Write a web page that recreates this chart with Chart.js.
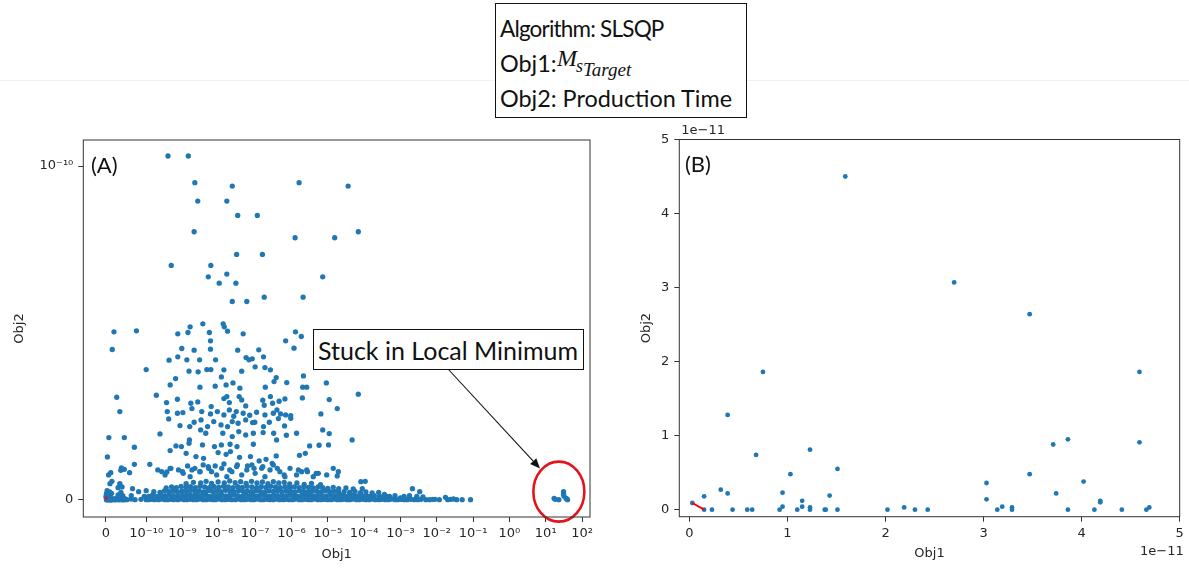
<!DOCTYPE html>
<html>
<head>
<meta charset="utf-8">
<script src="https://cdn.jsdelivr.net/npm/chart.js@4.4.0/dist/chart.umd.min.js"></script>
<style>
  body { margin: 0; background: #fff; }
  #page { position: relative; width: 1189px; height: 569px; overflow: hidden; background: #fff; }
  canvas { position: absolute; top: 0; }
  #chartA { left: 0; }
  #chartB { left: 600px; }
  .rule { position: absolute; left: 0; top: 80px; width: 1189px; height: 1px; background: #f0f0f0; }
  .box { position: absolute; box-sizing: border-box; border: 1.5px solid #111; background: #fff; }
  .t { position: absolute; font-family: Lato, "Open Sans", sans-serif; color: #111; line-height: 1.2;
       white-space: nowrap; transform: translateY(-50%); }
  .m { position: absolute; font-family: "Liberation Serif", serif; font-style: italic; color: #111;
       line-height: 1; white-space: nowrap; }
</style>
</head>
<body>
<div id="page">
  <canvas id="chartA" width="600" height="569"></canvas>
  <canvas id="chartB" width="589" height="569"></canvas>

  <div class="rule"></div>
  <div class="box" style="left:495px;top:3px;width:252px;height:115px"></div>
  <div class="t" style="left:500px;top:28px;font-size:22.5px;letter-spacing:-0.8px">Algorithm: SLSQP</div>
  <div class="t" style="left:500px;top:63px;font-size:23.4px">Obj1:</div>
  <span class="m" style="left:557px;top:46px;font-size:24px">M</span>
  <span class="m" style="left:576px;top:57px;font-size:18px">s</span>
  <span class="m" style="left:583px;top:60px;font-size:19px">Target</span>
  <div class="t" style="left:500px;top:98px;font-size:23.4px">Obj2: Production Time</div>

  <div class="t" style="left:91px;top:165px;font-size:22px">(A)</div>
  <div class="t" style="left:685px;top:164px;font-size:22px">(B)</div>

  <div class="box" style="left:313px;top:329px;width:271px;height:41px"></div>
  <div class="t" style="left:318px;top:350px;font-size:25px">Stuck in Local Minimum</div>
</div>

<script>
// ---- data -------------------------------------------------------------
// points with Obj1 < 5e-11 (they appear in both panels); both values in units of 1e-11
const lowObj1 = [1.59, 2.70, 3.47, 0.75, 4.59, 0.39, 0.68, 1.23, 3.71, 3.86,
                 4.59, 1.03, 1.51, 3.47, 3.03, 4.02, 0.32, 0.39, 0.15, 0.95,
                 1.43, 1.15, 3.74, 3.03, 4.19, 4.19, 0.03, 0.95, 1.15, 1.23,
                 2.19, 3.19, 3.29, 4.69,
                 0.15, 0.23, 0.44, 0.59, 0.64, 0.92, 1.10, 1.23, 1.38, 1.39,
                 1.51, 2.02, 2.30, 2.43, 3.14, 3.29, 3.86, 4.13, 4.41, 4.66,
                 2.02];
const lowObj2 = [4.50, 3.07, 2.64, 1.86, 1.86, 1.28, 0.74, 0.81, 0.88, 0.95,
                 0.91, 0.48, 0.55, 0.48, 0.36, 0.38, 0.27, 0.22, 0.18, 0.23,
                 0.19, 0.12, 0.22, 0.14, 0.12, 0.10, 0.09, 0.04, 0.04, 0.03,
                 0.03, 0.04, 0.03, 0.03,
                 0, 0, 0, 0, 0, 0, 0, 0, 0, 0,
                 0, 0, 0, 0, 0, 0, 0, 0, 0, 0,
                 5.03];

// red front (units of 1e-11)
const redObj1 = [0.03, 0.15];
const redObj2 = [0.09, 0];

// the other points of panel A: [log10(Obj1), Obj2 / 1e-11]
const upperA = [
  [-9.40,10.30],[-8.84,10.30],[-8.66,9.50],[-7.63,9.40],[-5.79,9.50],[-4.44,9.40],
  [-8.58,8.95],[-7.78,8.95],[-7.48,8.52],[-6.94,8.52],[-8.68,8.03],[-5.90,7.85],
  [-4.81,7.85],[-4.16,8.03],[-7.51,7.35],[-6.80,7.35],[-9.31,7.02],[-8.22,7.02],
  [-8.29,6.68],[-7.78,6.76],[-5.14,6.68],[-7.99,6.49],[-7.53,6.49],[-7.63,5.94],
  [-7.23,5.94],[-6.75,6.07],[-5.68,6.07]
];
const middleA = [
  [-10.12,5.06],[-9.13,4.97],[-8.85,5.01],[-8.79,5.18],[-8.44,5.27],[-7.88,5.27],[-7.85,5.18],
  [-7.76,5.05],[-8.26,5.01],[-8.23,4.76],[-7.33,4.97],[-5.89,5.03],[-5.73,4.89],[-6.16,4.76],
  [-9.02,4.53],[-8.68,4.48],[-8.23,4.51],[-7.48,4.48],[-6.90,4.49],[-5.93,4.54],
  [-10.00,3.90],[-9.37,4.18],[-9.13,4.28],[-8.88,4.19],[-8.53,4.19],[-8.09,4.19],[-7.25,4.26],
  [-7.17,4.19],[-7.08,4.22],[-6.77,4.28],[-7.00,3.98],
  [-8.82,3.85],[-8.57,3.83],[-8.33,3.90],[-8.22,3.90],[-7.93,3.68],[-7.86,3.89],[-7.37,3.85],
  [-6.73,3.96],[-6.58,3.89],[-6.42,3.66],[-5.67,3.71],
  [-9.19,3.63],[-9.34,3.44],[-8.52,3.37],[-8.10,3.40],[-7.80,3.44],[-7.61,3.50],[-7.42,3.34],
  [-6.72,3.37],[-6.48,3.54],[-6.13,3.51],[-5.69,3.37],[-5.58,3.37],[-5.04,3.50],
  [-9.72,3.13],[-9.44,2.91],[-9.14,3.01],[-8.77,2.89],[-8.58,2.93],[-8.21,2.79],[-7.86,3.03],
  [-7.78,3.09],[-7.71,2.91],[-7.44,3.09],[-7.37,2.99],[-7.26,2.81],[-6.79,2.98],[-6.75,2.83],
  [-6.58,3.09],[-6.52,2.89],[-6.34,2.95],[-6.18,3.02],[-5.70,3.05],[-4.96,3.00],[-4.74,2.73],
  [-4.16,3.16],
  [-9.42,2.64],[-9.14,2.59],[-8.99,2.61],[-8.74,2.73],[-8.47,2.64],[-8.23,2.57],[-8.04,2.64],
  [-7.86,2.54],[-7.71,2.69],[-7.59,2.50],[-7.52,2.64],[-7.33,2.59],[-7.15,2.53],[-6.96,2.62],
  [-6.73,2.54],[-6.50,2.59],[-6.40,2.69],[-6.30,2.57],[-6.16,2.54],[-6.02,2.52],[-6.36,2.43],
  [-5.19,2.57],
  [-9.38,2.42],[-9.07,2.22],[-8.80,2.19],[-8.68,2.32],[-8.49,2.39],[-8.31,2.19],[-8.14,2.34],
  [-7.94,2.24],[-7.76,2.19],[-7.63,2.34],[-7.47,2.29],[-7.26,2.39],[-7.07,2.31],[-7.01,2.32],
  [-6.77,2.19],[-6.61,2.32],[-6.19,2.21],[-6.02,2.44],
  [-9.62,1.97],[-8.81,1.79],[-8.50,2.09],[-8.36,1.99],[-7.89,1.99],[-7.63,1.89],[-7.45,2.04],
  [-7.26,1.94],[-7.05,1.99],[-6.78,2.01],[-6.49,1.99],[-6.14,1.93],[-5.86,1.99],[-5.14,2.09],
  [-4.96,1.98],[-4.33,1.79],
  [-10.15,1.57],[-9.18,1.61],[-9.03,1.59],[-8.82,1.69],[-8.45,1.64],[-8.12,1.59],[-7.93,1.64],
  [-7.69,1.66],[-7.50,1.59],[-7.05,1.66],[-6.41,1.79],[-5.50,1.61],[-5.24,1.63],[-4.98,1.64],
  [-9.34,1.47],[-8.90,1.39],[-8.63,1.29],[-8.42,1.24],[-8.02,1.41],[-7.80,1.36],[-7.68,1.44],
  [-7.43,1.27],[-7.13,1.29],[-6.89,1.16],[-6.70,1.21],[-6.42,1.31],[-5.78,1.33],[-5.62,1.39],
  [-10.15,1.06],[-9.90,1.06],[-10.23,0.81],[-9.68,0.89],[-9.43,0.83],[-9.32,0.94],[-9.00,0.84],
  [-8.86,1.01],[-8.74,0.89],[-8.52,0.84],[-8.28,0.94],[-8.10,1.01],[-7.86,1.07],[-7.70,0.89],
  [-7.49,1.04],[-7.21,1.01],[-7.03,0.94],[-6.79,0.99],[-6.53,1.09],[-6.39,0.94],[-6.20,0.74],
  [-5.81,0.89],[-5.56,0.84],[-5.32,0.79],[-4.74,0.71],[-4.09,0.54],[-3.97,0.55],
  [-10.18,0.33],[-10.09,0.24],[-10.00,0.27],[-9.79,0.24]
];
const lowerA = [
  [-9.57,0.84],[-9.48,0.74],[-9.34,0.94],[-9.11,0.89],[-8.98,0.79],[-8.79,0.69],[-8.66,0.94],
  [-8.52,0.84],[-8.43,1.04],[-8.29,0.99],[-8.20,0.84],[-8.06,0.74],[-7.92,0.94],[-7.78,0.69],
  [-7.64,0.84],[-7.51,0.99],[-7.37,0.74],[-7.23,0.89],[-7.09,1.04],[-7.00,0.79],[-6.82,0.94],
  [-6.73,0.69],[-6.59,0.89],[-6.50,1.04],[-6.32,0.84],[-6.18,0.69],[-6.04,0.94],[-5.86,0.74],
  [-5.72,0.84],[-5.58,0.89],[-5.40,0.69],[-5.26,0.79],[-5.03,0.74],[-4.85,0.94],[-4.71,0.84]
];
// the dense band just above Obj2 = 0
const bandA = [
  [-10.28,0],[-10.2,0.02],[-10.14,0],[-10.06,0.01],[-10.02,0.1],[-10.2,0.12],
  [-10.0,0],[-9.93,0],[-9.84,0.01],[-9.77,0],[-9.66,0],[-9.59,0.02],[-9.49,0],[-9.41,0],
  [-9.32,0.01],[-9.24,0],[-9.13,0],[-9.06,0.02],[-8.96,0],[-8.88,0],[-8.79,0.01],[-8.7,0],
  [-8.61,0],[-8.53,0.02],[-8.43,0],[-8.35,0],[-8.26,0.01],[-8.17,0],[-8.09,0],[-7.99,0.02],
  [-7.91,0],[-7.82,0],[-7.73,0.01],[-7.65,0],[-7.55,0],[-7.47,0.02],[-7.38,0],[-7.29,0],
  [-7.21,0.01],[-7.11,0],[-7.03,0],[-6.94,0.02],[-6.85,0],[-6.77,0],[-6.67,0.01],[-6.59,0],
  [-6.5,0],[-6.41,0.02],[-6.33,0],[-6.23,0],[-6.15,0.01],[-6.06,0],[-5.97,0],[-5.89,0.02],
  [-5.79,0],[-5.71,0],[-5.62,0.01],[-5.53,0],[-5.45,0],[-5.35,0.02],[-5.27,0],[-5.18,0],
  [-5.09,0.01],[-5.01,0],[-4.91,0],[-4.83,0.02],[-4.74,0],[-4.65,0],[-4.57,0.01],[-4.47,0],
  [-4.39,0],[-4.3,0.02],[-4.21,0],[-4.13,0],[-4.03,0.01],[-3.95,0],[-3.86,0],[-3.77,0.02],
  [-3.69,0],[-3.59,0],[-3.51,0.01],[-3.42,0],[-3.33,0],[-3.25,0.02],[-3.15,0],[-3.07,0],
  [-2.98,0.01],[-2.89,0],[-2.81,0],[-2.71,0.01],[-2.62,0],[-2.52,0],[-2.43,0.01],[-2.3,0],
  [-2.2,0],[-2.05,0.01],[-1.93,0],[-1.7,0],[-1.62,0.01],[-1.45,0],[-1.3,0],
  [-9.93,0.1],[-9.82,0.14],[-9.7,0.1],[-9.58,0.13],[-9.47,0.11],[-9.36,0.15],[-9.25,0.12],
  [-9.13,0.1],[-9.02,0.14],[-8.91,0.12],[-8.8,0.15],[-8.69,0.11],[-8.58,0.13],[-8.47,0.12],
  [-8.36,0.15],[-8.25,0.1],[-8.14,0.13],[-8.03,0.12],[-7.92,0.14],[-7.81,0.11],[-7.7,0.13],
  [-7.59,0.15],[-7.48,0.12],[-7.37,0.1],[-7.26,0.14],[-7.15,0.12],[-7.04,0.13],[-6.93,0.11],
  [-6.82,0.15],[-6.71,0.12],[-6.6,0.1],[-6.49,0.14],[-6.38,0.12],[-6.27,0.13],[-6.16,0.11],
  [-6.05,0.15],[-5.94,0.12],[-5.83,0.1],[-5.72,0.13],[-5.61,0.12],[-5.5,0.14],[-5.39,0.11],
  [-5.28,0.12],[-5.17,0.13],[-5.06,0.1],[-4.95,0.14],[-4.84,0.12],[-4.73,0.11],[-4.62,0.13],
  [-4.51,0.1],[-4.4,0.12],[-4.29,0.14],[-4.18,0.11],[-4.07,0.1],[-3.96,0.13],[-3.85,0.1],
  [-3.72,0.12],[-3.58,0.1],[-3.46,0.11],[-3.3,0.1],[-3.15,0.12],[-2.9,0.1],[-2.75,0.12],
  [-2.55,0.1],[-2.38,0.08],
  [-9.62,0.22],[-9.5,0.26],[-9.38,0.24],[-9.26,0.27],[-9.14,0.23],[-9.02,0.26],[-8.9,0.25],
  [-8.78,0.28],[-8.66,0.24],[-8.54,0.26],[-8.42,0.23],[-8.3,0.27],[-8.18,0.25],[-8.06,0.26],
  [-7.94,0.24],[-7.82,0.28],[-7.7,0.25],[-7.58,0.23],[-7.46,0.27],[-7.34,0.25],[-7.22,0.26],
  [-7.1,0.24],[-6.98,0.27],[-6.86,0.25],[-6.74,0.23],[-6.62,0.26],[-6.5,0.25],[-6.38,0.27],
  [-6.26,0.24],[-6.14,0.26],[-6.02,0.25],[-5.9,0.23],[-5.78,0.27],[-5.66,0.25],[-5.54,0.24],
  [-5.42,0.26],[-5.3,0.25],[-5.18,0.23],[-5.06,0.26],[-4.94,0.24],[-4.82,0.25],[-4.7,0.22],
  [-4.55,0.24],[-4.4,0.22],[-4.25,0.25],[-4.1,0.21],[-3.95,0.23],[-3.78,0.2],[-3.6,0.22],
  [-9.45,0.35],[-9.3,0.38],[-9.17,0.36],[-9.04,0.4],[-8.91,0.37],[-8.78,0.39],[-8.65,0.36],
  [-8.52,0.4],[-8.39,0.38],[-8.26,0.36],[-8.13,0.39],[-8.0,0.37],[-7.87,0.4],[-7.74,0.38],
  [-7.61,0.36],[-7.48,0.39],[-7.35,0.37],[-7.22,0.4],[-7.09,0.38],[-6.96,0.36],[-6.83,0.39],
  [-6.7,0.37],[-6.57,0.4],[-6.44,0.38],[-6.31,0.36],[-6.18,0.39],[-6.05,0.37],[-5.92,0.38],
  [-5.79,0.36],[-5.66,0.39],[-5.53,0.37],[-5.4,0.35],[-5.27,0.38],[-5.14,0.36],[-5.0,0.34],
  [-4.85,0.37],[-4.7,0.33],[-4.5,0.35],[-4.3,0.32],[-4.05,0.33],
  [-8.9,0.48],[-8.7,0.52],[-8.5,0.5],[-8.35,0.55],[-8.2,0.49],[-8.02,0.53],[-7.85,0.5],
  [-7.7,0.56],[-7.55,0.51],[-7.4,0.54],[-7.25,0.49],[-7.1,0.55],[-6.95,0.5],[-6.8,0.53],
  [-6.65,0.48],[-6.5,0.54],[-6.35,0.5],[-6.2,0.52],[-6.05,0.47],[-5.85,0.5],[-5.65,0.46],
  [-5.45,0.49],[-5.2,0.45]
];
const tailA = [
  [-2.67,0.33],[-2.47,0.24],[-2.11,0.01],[-1.76,0.07],[-1.54,0.02],[-1.07,0],
  [-3.44,0.16],[-3.34,0.09],[-3.00,0.05],[-2.94,0.01]
];
// the group that is stuck near Obj1 = 20..40
const clusterA = [
  [1.23,0.04],[1.26,0.01],[1.36,0],[1.49,0.24],[1.49,0.17],[1.50,0.11],[1.56,0.04],[1.60,0],[1.58,0.02]
];
const circleObj1 = 23;
const circleObj2 = 0.24;

const xTickValsA = [0, 1e-10, 1e-9, 1e-8, 1e-7, 1e-6, 1e-5, 1e-4, 1e-3, 1e-2, 1e-1, 1, 10, 100];
const xTickLabelsA = ['0', '10\u207B\u00B9\u2070', '10\u207B\u2079', '10\u207B\u2078', '10\u207B\u2077',
  '10\u207B\u2076', '10\u207B\u2075', '10\u207B\u2074', '10\u207B\u00B3', '10\u207B\u00B2', '10\u207B\u00B9',
  '10\u2070', '10\u00B9', '10\u00B2'];
const yTickValsA = [0, 10];            // units of 1e-11
const yTickLabelsA = ['0', '10\u207B\u00B9\u2070'];
const tickValsB = [0, 1, 2, 3, 4, 5];  // units of 1e-11

// ---- symlog transform (linthresh 1e-10, base 10) ----------------------
const LINTHRESH = 1e-10;
const LINSCALE = 1 / (1 - 1 / 10);
function symlog(v) {
  const a = Math.abs(v);
  if (a <= LINTHRESH) return v / LINTHRESH * LINSCALE;
  return Math.sign(v) * (LINSCALE + Math.log10(a / LINTHRESH));
}

const BLUE = '#1f77b4';
const INK = '#262626';
Chart.defaults.font.family = '"DejaVu Sans", sans-serif';
Chart.defaults.color = INK;

const frame = {
  id: 'frame',
  afterDraw(chart) {
    const { ctx, chartArea: a } = chart;
    ctx.save();
    ctx.strokeStyle = '#333';
    ctx.lineWidth = 1;
    ctx.strokeRect(a.left, a.top, a.right - a.left, a.bottom - a.top);
    ctx.restore();
  }
};

const callout = {
  id: 'callout',
  afterDatasetsDraw(chart) {
    const { ctx, scales } = chart;
    const cx = scales.x.getPixelForValue(symlog(circleObj1));
    const cy = scales.y.getPixelForValue(circleObj2);
    ctx.save();
    ctx.strokeStyle = '#e3141c';
    ctx.lineWidth = 2.6;
    ctx.beginPath();
    ctx.ellipse(cx, cy, 25.5, 30, 0, 0, Math.PI * 2);
    ctx.stroke();

    // arrow from the text box to the circle
    const x0 = 448.5, y0 = 369.5, x1 = 540, y1 = 468.5;
    const ang = Math.atan2(y1 - y0, x1 - x0);
    const hl = 10, hw = 4.2;
    const bx = x1 - hl * Math.cos(ang), by = y1 - hl * Math.sin(ang);
    ctx.strokeStyle = '#111';
    ctx.fillStyle = '#111';
    ctx.lineWidth = 1.1;
    ctx.beginPath();
    ctx.moveTo(x0, y0);
    ctx.lineTo(bx, by);
    ctx.stroke();
    ctx.beginPath();
    ctx.moveTo(x1, y1);
    ctx.lineTo(bx + hw * Math.sin(ang), by - hw * Math.cos(ang));
    ctx.lineTo(bx - hw * Math.sin(ang), by + hw * Math.cos(ang));
    ctx.closePath();
    ctx.fill();
    ctx.restore();
  }
};

const offsetText = {
  id: 'offsetText',
  afterDraw(chart) {
    const { ctx, chartArea: a } = chart;
    ctx.save();
    ctx.fillStyle = INK;
    ctx.font = '13px "DejaVu Sans"';
    ctx.textBaseline = 'middle';
    ctx.textAlign = 'left';
    ctx.fillText('1e\u221211', a.left + 2, a.top - 9);
    ctx.textAlign = 'right';
    ctx.fillText('1e\u221211', a.right + 4, 552);
    ctx.restore();
  }
};

function axisCommon(extra) {
  return Object.assign({
    type: 'linear',
    bounds: 'data',
    grid: { drawOnChartArea: false, drawTicks: true, tickLength: 5, color: '#333' },
    border: { display: false }
  }, extra);
}

// ---- panel A ------------------------------------------------------------
const pointsA = lowObj1.map((v, i) => ({ x: symlog(v * 1e-11), y: lowObj2[i] }))
  .concat([].concat(upperA, middleA, lowerA, bandA, tailA, clusterA)
    .map(p => ({ x: symlog(Math.pow(10, p[0])), y: p[1] })));

new Chart(document.getElementById('chartA'), {
  type: 'scatter',
  data: {
    datasets: [
      {
        data: redObj1.map((v, i) => ({ x: symlog(v * 1e-11), y: redObj2[i] })),
        showLine: true, borderColor: 'red', borderWidth: 2, pointRadius: 0
      },
      {
        data: pointsA,
        backgroundColor: BLUE, borderWidth: 0, pointRadius: 2.65, clip: 0
      }
    ]
  },
  options: {
    responsive: false,
    animation: false,
    devicePixelRatio: 1,
    events: [],
    layout: { padding: { top: 140, right: 10, left: 0, bottom: 0 } },
    plugins: { legend: { display: false }, tooltip: { enabled: false } },
    scales: {
      x: axisCommon({
        min: -0.62, max: 13.33,
        afterBuildTicks: ax => { ax.ticks = xTickValsA.map(v => ({ value: symlog(v) })); },
        afterFit: ax => { ax.height = 52; },
        ticks: { autoSkip: false, maxRotation: 0, minRotation: 0, padding: 4,
                 font: { size: 13 }, callback: (v, i) => xTickLabelsA[i] },
        title: { display: true, text: 'Obj1', font: { size: 13 }, padding: { top: 0, bottom: 7 } }
      }),
      y: axisCommon({
        min: -0.52, max: 10.78,
        afterBuildTicks: ax => { ax.ticks = yTickValsA.map(v => ({ value: v })); },
        afterFit: ax => { ax.width = 83.3; },
        ticks: { autoSkip: false, padding: 5, font: { size: 13 }, callback: (v, i) => yTickLabelsA[i] },
        title: { display: true, text: 'Obj2', font: { size: 13 }, padding: { top: 12, bottom: 0 } }
      })
    }
  },
  plugins: [frame, callout]
});

// ---- panel B ------------------------------------------------------------
new Chart(document.getElementById('chartB'), {
  type: 'scatter',
  data: {
    datasets: [
      {
        data: redObj1.map((v, i) => ({ x: v, y: redObj2[i] })),
        showLine: true, borderColor: 'red', borderWidth: 2, pointRadius: 0
      },
      {
        data: lowObj1.map((v, i) => ({ x: v, y: lowObj2[i] })),
        backgroundColor: BLUE, borderWidth: 0, pointRadius: 2.4, clip: 0
      }
    ]
  },
  options: {
    responsive: false,
    animation: false,
    devicePixelRatio: 1,
    events: [],
    layout: { padding: { top: 139.5, right: 9.3, left: 0, bottom: 0 } },
    plugins: { legend: { display: false }, tooltip: { enabled: false } },
    scales: {
      x: axisCommon({
        min: -0.103, max: 5,
        afterBuildTicks: ax => { ax.ticks = tickValsB.map(v => ({ value: v })); },
        afterFit: ax => { ax.height = 52.3; },
        ticks: { autoSkip: false, maxRotation: 0, padding: 4, font: { size: 13 },
                 callback: v => String(v) },
        title: { display: true, text: 'Obj1', font: { size: 13 }, padding: { top: 0, bottom: 8 } }
      }),
      y: axisCommon({
        min: -0.095, max: 5,
        afterBuildTicks: ax => { ax.ticks = tickValsB.map(v => ({ value: v })); },
        afterFit: ax => { ax.width = 79.3; },
        ticks: { autoSkip: false, padding: 5, font: { size: 13 }, callback: v => String(v) },
        title: { display: true, text: 'Obj2', font: { size: 13 }, padding: { top: 39, bottom: 0 } }
      })
    }
  },
  plugins: [frame, offsetText]
});
</script>
</body>
</html>
